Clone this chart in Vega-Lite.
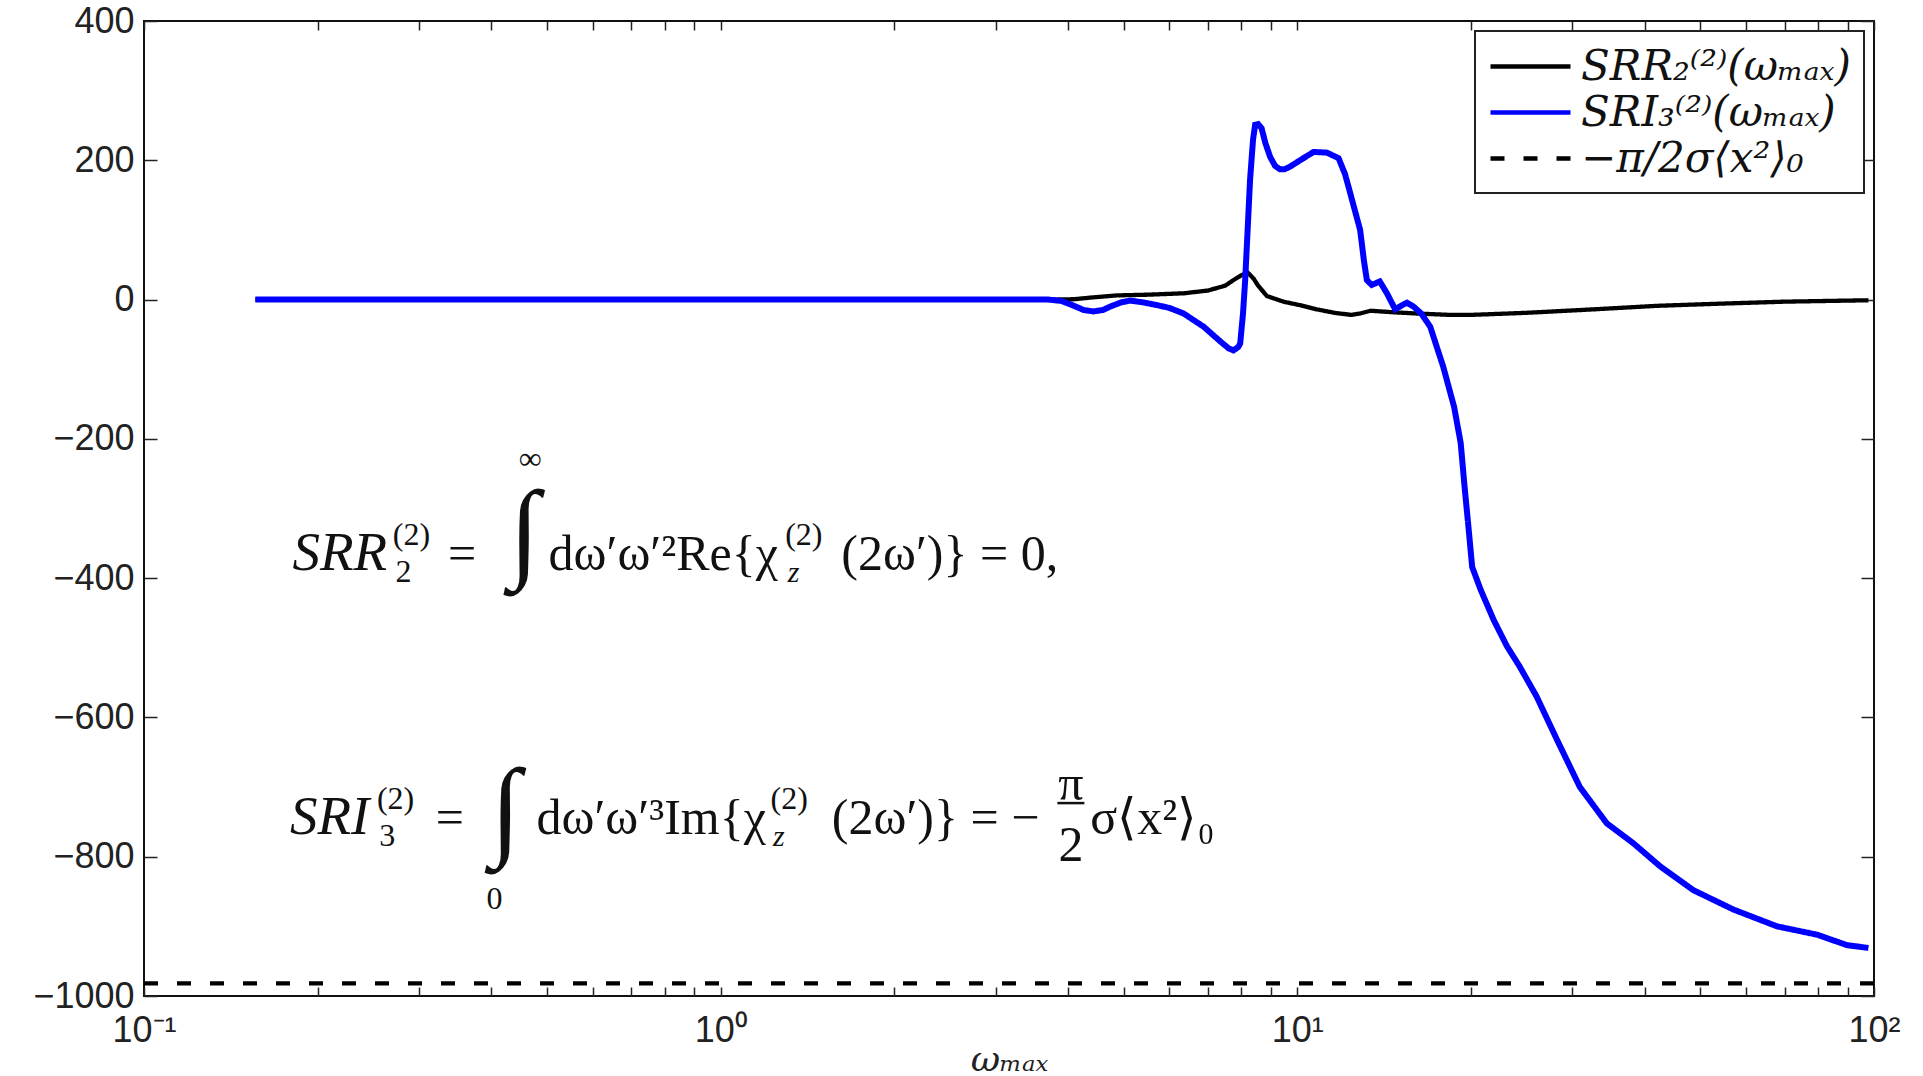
{
  "$schema": "https://vega.github.io/schema/vega-lite/v6.json",
  "width": 1730,
  "height": 975,
  "autosize": {"type": "none"},
  "padding": {"left": 144, "top": 21, "right": 49, "bottom": 80},
  "background": "white",
  "config": {
    "view": {"stroke": "#111", "strokeWidth": 2},
    "axis": {"domain": false, "grid": false, "labelFont": "Liberation Sans", "labelFontSize": 36, "labelColor": "#222", "tickColor": "#222", "tickWidth": 1.5, "labelFlush": false, "labelOverlap": false},
    "legend": {"orient": "top-right", "offset": 10, "strokeColor": "#222", "strokeWidth": 2, "fillColor": "white", "padding": 13, "symbolType": "M-1,0H3", "symbolSize": 1600, "symbolStrokeWidth": 4.5, "labelFont": "DejaVu Serif", "labelFontStyle": "italic", "labelFontSize": 42, "rowPadding": 2, "labelLimit": 600, "labelOffset": 48, "labelColor": "#111"}
  },
  "datasets": {
    "curves": [
      {"w": 0.156, "v": 0, "s": "SRR₂⁽²⁾(ωₘₐₓ)"},
      {"w": 0.5, "v": 0, "s": "SRR₂⁽²⁾(ωₘₐₓ)"},
      {"w": 1.0, "v": 0, "s": "SRR₂⁽²⁾(ωₘₐₓ)"},
      {"w": 2.0, "v": 0, "s": "SRR₂⁽²⁾(ωₘₐₓ)"},
      {"w": 3.8, "v": 0, "s": "SRR₂⁽²⁾(ωₘₐₓ)"},
      {"w": 4.1, "v": 0.5, "s": "SRR₂⁽²⁾(ωₘₐₓ)"},
      {"w": 4.4, "v": 3, "s": "SRR₂⁽²⁾(ωₘₐₓ)"},
      {"w": 4.87, "v": 6, "s": "SRR₂⁽²⁾(ωₘₐₓ)"},
      {"w": 5.5, "v": 7, "s": "SRR₂⁽²⁾(ωₘₐₓ)"},
      {"w": 6.35, "v": 9, "s": "SRR₂⁽²⁾(ωₘₐₓ)"},
      {"w": 7.0, "v": 13, "s": "SRR₂⁽²⁾(ωₘₐₓ)"},
      {"w": 7.5, "v": 20, "s": "SRR₂⁽²⁾(ωₘₐₓ)"},
      {"w": 7.75, "v": 28, "s": "SRR₂⁽²⁾(ωₘₐₓ)"},
      {"w": 8.0, "v": 35, "s": "SRR₂⁽²⁾(ωₘₐₓ)"},
      {"w": 8.2, "v": 39, "s": "SRR₂⁽²⁾(ωₘₐₓ)"},
      {"w": 8.4, "v": 30, "s": "SRR₂⁽²⁾(ωₘₐₓ)"},
      {"w": 8.55, "v": 20, "s": "SRR₂⁽²⁾(ωₘₐₓ)"},
      {"w": 8.86, "v": 5, "s": "SRR₂⁽²⁾(ωₘₐₓ)"},
      {"w": 9.46, "v": -3, "s": "SRR₂⁽²⁾(ωₘₐₓ)"},
      {"w": 10.1, "v": -8, "s": "SRR₂⁽²⁾(ωₘₐₓ)"},
      {"w": 10.8, "v": -14, "s": "SRR₂⁽²⁾(ωₘₐₓ)"},
      {"w": 11.6, "v": -19, "s": "SRR₂⁽²⁾(ωₘₐₓ)"},
      {"w": 12.4, "v": -22, "s": "SRR₂⁽²⁾(ωₘₐₓ)"},
      {"w": 12.85, "v": -20, "s": "SRR₂⁽²⁾(ωₘₐₓ)"},
      {"w": 13.4, "v": -16, "s": "SRR₂⁽²⁾(ωₘₐₓ)"},
      {"w": 14.5, "v": -18, "s": "SRR₂⁽²⁾(ωₘₐₓ)"},
      {"w": 16.1, "v": -20, "s": "SRR₂⁽²⁾(ωₘₐₓ)"},
      {"w": 18.4, "v": -22, "s": "SRR₂⁽²⁾(ωₘₐₓ)"},
      {"w": 20.0, "v": -22, "s": "SRR₂⁽²⁾(ωₘₐₓ)"},
      {"w": 25.0, "v": -19, "s": "SRR₂⁽²⁾(ωₘₐₓ)"},
      {"w": 32.7, "v": -14, "s": "SRR₂⁽²⁾(ωₘₐₓ)"},
      {"w": 42.0, "v": -9, "s": "SRR₂⁽²⁾(ωₘₐₓ)"},
      {"w": 53.5, "v": -6, "s": "SRR₂⁽²⁾(ωₘₐₓ)"},
      {"w": 70.0, "v": -3, "s": "SRR₂⁽²⁾(ωₘₐₓ)"},
      {"w": 97.8, "v": -1, "s": "SRR₂⁽²⁾(ωₘₐₓ)"},
      {"w": 0.1, "v": -982, "s": "−π/2σ⟨x²⟩₀"},
      {"w": 100, "v": -982, "s": "−π/2σ⟨x²⟩₀"},
      {"w": 0.156, "v": 0, "s": "SRI₃⁽²⁾(ωₘₐₓ)"},
      {"w": 0.5, "v": 0, "s": "SRI₃⁽²⁾(ωₘₐₓ)"},
      {"w": 1.0, "v": 0, "s": "SRI₃⁽²⁾(ωₘₐₓ)"},
      {"w": 2.0, "v": 0, "s": "SRI₃⁽²⁾(ωₘₐₓ)"},
      {"w": 3.7, "v": 0, "s": "SRI₃⁽²⁾(ωₘₐₓ)"},
      {"w": 3.9, "v": -2, "s": "SRI₃⁽²⁾(ωₘₐₓ)"},
      {"w": 4.1, "v": -9, "s": "SRI₃⁽²⁾(ωₘₐₓ)"},
      {"w": 4.26, "v": -15, "s": "SRI₃⁽²⁾(ωₘₐₓ)"},
      {"w": 4.43, "v": -17, "s": "SRI₃⁽²⁾(ωₘₐₓ)"},
      {"w": 4.6, "v": -15, "s": "SRI₃⁽²⁾(ωₘₐₓ)"},
      {"w": 4.74, "v": -10, "s": "SRI₃⁽²⁾(ωₘₐₓ)"},
      {"w": 4.95, "v": -4, "s": "SRI₃⁽²⁾(ωₘₐₓ)"},
      {"w": 5.13, "v": -1.5, "s": "SRI₃⁽²⁾(ωₘₐₓ)"},
      {"w": 5.4, "v": -4, "s": "SRI₃⁽²⁾(ωₘₐₓ)"},
      {"w": 5.71, "v": -8, "s": "SRI₃⁽²⁾(ωₘₐₓ)"},
      {"w": 6.0, "v": -12, "s": "SRI₃⁽²⁾(ωₘₐₓ)"},
      {"w": 6.35, "v": -20, "s": "SRI₃⁽²⁾(ωₘₐₓ)"},
      {"w": 6.88, "v": -39, "s": "SRI₃⁽²⁾(ωₘₐₓ)"},
      {"w": 7.35, "v": -60, "s": "SRI₃⁽²⁾(ωₘₐₓ)"},
      {"w": 7.6, "v": -70, "s": "SRI₃⁽²⁾(ωₘₐₓ)"},
      {"w": 7.75, "v": -73, "s": "SRI₃⁽²⁾(ωₘₐₓ)"},
      {"w": 7.9, "v": -68, "s": "SRI₃⁽²⁾(ωₘₐₓ)"},
      {"w": 7.96, "v": -63, "s": "SRI₃⁽²⁾(ωₘₐₓ)"},
      {"w": 8.05, "v": -20, "s": "SRI₃⁽²⁾(ωₘₐₓ)"},
      {"w": 8.12, "v": 28, "s": "SRI₃⁽²⁾(ωₘₐₓ)"},
      {"w": 8.2, "v": 100, "s": "SRI₃⁽²⁾(ωₘₐₓ)"},
      {"w": 8.28, "v": 172, "s": "SRI₃⁽²⁾(ωₘₐₓ)"},
      {"w": 8.38, "v": 230, "s": "SRI₃⁽²⁾(ωₘₐₓ)"},
      {"w": 8.45, "v": 251, "s": "SRI₃⁽²⁾(ωₘₐₓ)"},
      {"w": 8.55, "v": 252, "s": "SRI₃⁽²⁾(ωₘₐₓ)"},
      {"w": 8.67, "v": 246, "s": "SRI₃⁽²⁾(ωₘₐₓ)"},
      {"w": 8.8, "v": 225, "s": "SRI₃⁽²⁾(ωₘₐₓ)"},
      {"w": 8.97, "v": 205, "s": "SRI₃⁽²⁾(ωₘₐₓ)"},
      {"w": 9.15, "v": 192, "s": "SRI₃⁽²⁾(ωₘₐₓ)"},
      {"w": 9.33, "v": 187, "s": "SRI₃⁽²⁾(ωₘₐₓ)"},
      {"w": 9.5, "v": 187, "s": "SRI₃⁽²⁾(ωₘₐₓ)"},
      {"w": 9.72, "v": 191, "s": "SRI₃⁽²⁾(ωₘₐₓ)"},
      {"w": 10.2, "v": 202, "s": "SRI₃⁽²⁾(ωₘₐₓ)"},
      {"w": 10.67, "v": 212, "s": "SRI₃⁽²⁾(ωₘₐₓ)"},
      {"w": 11.25, "v": 211, "s": "SRI₃⁽²⁾(ωₘₐₓ)"},
      {"w": 11.79, "v": 203, "s": "SRI₃⁽²⁾(ωₘₐₓ)"},
      {"w": 12.1, "v": 180, "s": "SRI₃⁽²⁾(ωₘₐₓ)"},
      {"w": 12.35, "v": 153, "s": "SRI₃⁽²⁾(ωₘₐₓ)"},
      {"w": 12.85, "v": 100, "s": "SRI₃⁽²⁾(ωₘₐₓ)"},
      {"w": 13.05, "v": 55, "s": "SRI₃⁽²⁾(ωₘₐₓ)"},
      {"w": 13.2, "v": 28, "s": "SRI₃⁽²⁾(ωₘₐₓ)"},
      {"w": 13.46, "v": 21, "s": "SRI₃⁽²⁾(ωₘₐₓ)"},
      {"w": 13.9, "v": 26, "s": "SRI₃⁽²⁾(ωₘₐₓ)"},
      {"w": 14.3, "v": 9, "s": "SRI₃⁽²⁾(ωₘₐₓ)"},
      {"w": 14.78, "v": -14, "s": "SRI₃⁽²⁾(ωₘₐₓ)"},
      {"w": 15.2, "v": -8, "s": "SRI₃⁽²⁾(ωₘₐₓ)"},
      {"w": 15.49, "v": -4.5, "s": "SRI₃⁽²⁾(ωₘₐₓ)"},
      {"w": 15.9, "v": -10, "s": "SRI₃⁽²⁾(ωₘₐₓ)"},
      {"w": 16.4, "v": -20, "s": "SRI₃⁽²⁾(ωₘₐₓ)"},
      {"w": 17.0, "v": -39, "s": "SRI₃⁽²⁾(ωₘₐₓ)"},
      {"w": 17.9, "v": -96, "s": "SRI₃⁽²⁾(ωₘₐₓ)"},
      {"w": 18.7, "v": -154, "s": "SRI₃⁽²⁾(ωₘₐₓ)"},
      {"w": 19.2, "v": -206, "s": "SRI₃⁽²⁾(ωₘₐₓ)"},
      {"w": 19.5, "v": -269, "s": "SRI₃⁽²⁾(ωₘₐₓ)"},
      {"w": 19.8, "v": -326, "s": "SRI₃⁽²⁾(ωₘₐₓ)"},
      {"w": 20.1, "v": -384, "s": "SRI₃⁽²⁾(ωₘₐₓ)"},
      {"w": 20.8, "v": -417, "s": "SRI₃⁽²⁾(ωₘₐₓ)"},
      {"w": 21.9, "v": -460, "s": "SRI₃⁽²⁾(ωₘₐₓ)"},
      {"w": 23.1, "v": -498, "s": "SRI₃⁽²⁾(ωₘₐₓ)"},
      {"w": 24.3, "v": -527, "s": "SRI₃⁽²⁾(ωₘₐₓ)"},
      {"w": 26.0, "v": -570, "s": "SRI₃⁽²⁾(ωₘₐₓ)"},
      {"w": 28.2, "v": -632, "s": "SRI₃⁽²⁾(ωₘₐₓ)"},
      {"w": 30.9, "v": -700, "s": "SRI₃⁽²⁾(ωₘₐₓ)"},
      {"w": 34.4, "v": -752, "s": "SRI₃⁽²⁾(ωₘₐₓ)"},
      {"w": 38.3, "v": -781, "s": "SRI₃⁽²⁾(ωₘₐₓ)"},
      {"w": 42.6, "v": -814, "s": "SRI₃⁽²⁾(ωₘₐₓ)"},
      {"w": 48.6, "v": -848, "s": "SRI₃⁽²⁾(ωₘₐₓ)"},
      {"w": 57.1, "v": -876, "s": "SRI₃⁽²⁾(ωₘₐₓ)"},
      {"w": 67.9, "v": -900, "s": "SRI₃⁽²⁾(ωₘₐₓ)"},
      {"w": 79.7, "v": -912, "s": "SRI₃⁽²⁾(ωₘₐₓ)"},
      {"w": 89.8, "v": -927, "s": "SRI₃⁽²⁾(ωₘₐₓ)"},
      {"w": 97.8, "v": -931, "s": "SRI₃⁽²⁾(ωₘₐₓ)"}
    ],
    "eq": [
      {"k": "lhs", "t": "SRR", "w": 0.1809, "v": -388.3},
      {"k": "lhs", "t": "SRI", "w": 0.1791, "v": -767.4},
      {"k": "body", "t": "=", "w": 0.3366, "v": -388.3},
      {"k": "body", "t": "=", "w": 0.3207, "v": -767.4},
      {"k": "body", "t": "dω′ω′²Re{χ", "w": 0.503, "v": -388.3},
      {"k": "body", "t": "(2ω′)} = 0,", "w": 1.619, "v": -388.3},
      {"k": "body", "t": "dω′ω′³Im{χ", "w": 0.4793, "v": -767.4},
      {"k": "body", "t": "(2ω′)} = −", "w": 1.559, "v": -767.4},
      {"k": "body", "t": "σ⟨x²⟩₀", "w": 4.375, "v": -767.4},
      {"k": "sup", "t": "(2)", "w": 0.27, "v": -353},
      {"k": "sup", "t": "2", "w": 0.2729, "v": -406},
      {"k": "sup", "t": "(2)", "w": 0.2535, "v": -732},
      {"k": "sup", "t": "3", "w": 0.2559, "v": -785},
      {"k": "sup", "t": "(2)", "w": 1.294, "v": -353},
      {"k": "sup", "t": "(2)", "w": 1.2203, "v": -732},
      {"k": "subz", "t": "z", "w": 1.307, "v": -406},
      {"k": "subz", "t": "z", "w": 1.232, "v": -785},
      {"k": "int", "t": "∫", "w": 0.4567, "v": -335.9},
      {"k": "int", "t": "∫", "w": 0.4238, "v": -735.8},
      {"k": "lim", "t": "∞", "w": 0.4675, "v": -229},
      {"k": "lim", "t": "0", "w": 0.4055, "v": -860.7},
      {"k": "frac", "t": "π", "w": 4.049, "v": -697},
      {"k": "frac", "t": "2", "w": 4.049, "v": -784.6}
    ],
    "bar": [
      {"w": 3.836, "w2": 4.273, "v": -723}
    ]
  },
  "layer": [
    {
      "data": {"name": "curves"},
      "transform": [{"filter": "datum.s != 'SRI₃⁽²⁾(ωₘₐₓ)'"}],
      "mark": {"type": "line", "strokeWidth": 4.3, "strokeCap": "butt"},
      "encoding": {
        "x": {"field": "w", "type": "quantitative", "scale": {"type": "log", "domain": [0.1, 100], "nice": false},
          "axis": {"orient": "bottom", "values": [0.1,0.2,0.3,0.4,0.5,0.6,0.7,0.8,0.9,1,2,3,4,5,6,7,8,9,10,20,30,40,50,60,70,80,90,100],
            "tickSize": -9, "labelPadding": 26,
            "labelExpr": "datum.value == 0.1 ? '10⁻¹' : datum.value == 1 ? '10⁰' : datum.value == 10 ? '10¹' : datum.value == 100 ? '10²' : ''",
            "title": "ωₘₐₓ", "titleFont": "DejaVu Serif", "titleFontStyle": "italic", "titleFontWeight": "normal", "titleFontSize": 36, "titlePadding": -6, "titleColor": "#222"}},
        "y": {"field": "v", "type": "quantitative", "scale": {"domain": [-1000, 400], "nice": false},
          "axis": {"orient": "left", "values": [-1000,-800,-600,-400,-200,0,200,400], "format": "d", "tickSize": -13, "labelPadding": 23, "title": null}},
        "color": {"field": "s", "type": "nominal", "title": null,
          "scale": {"domain": ["SRR₂⁽²⁾(ωₘₐₓ)", "SRI₃⁽²⁾(ωₘₐₓ)", "−π/2σ⟨x²⟩₀"], "range": ["#000000", "#0000ff", "#000000"]}},
        "strokeDash": {"field": "s", "type": "nominal", "title": null,
          "scale": {"domain": ["SRR₂⁽²⁾(ωₘₐₓ)", "SRI₃⁽²⁾(ωₘₐₓ)", "−π/2σ⟨x²⟩₀"], "range": [[1, 0], [1, 0], [14, 19]]}},
        "order": {"field": "w", "type": "quantitative"}
      }
    },
    {
      "data": {"name": "curves"},
      "transform": [{"filter": "datum.s == 'SRI₃⁽²⁾(ωₘₐₓ)'"}],
      "mark": {"type": "line", "strokeWidth": 6, "strokeCap": "butt"},
      "encoding": {
        "x": {"field": "w", "type": "quantitative", "scale": {"type": "log", "domain": [0.1, 100], "nice": false},
          "axis": {"orient": "top", "values": [0.1,0.2,0.3,0.4,0.5,0.6,0.7,0.8,0.9,1,2,3,4,5,6,7,8,9,10,20,30,40,50,60,70,80,90,100], "tickSize": -9, "labels": false, "title": null}},
        "y": {"field": "v", "type": "quantitative", "scale": {"domain": [-1000, 400], "nice": false},
          "axis": {"orient": "right", "values": [-1000,-800,-600,-400,-200,0,200,400], "tickSize": -13, "labels": false, "title": null}},
        "color": {"field": "s", "type": "nominal", "title": null,
          "scale": {"domain": ["SRR₂⁽²⁾(ωₘₐₓ)", "SRI₃⁽²⁾(ωₘₐₓ)", "−π/2σ⟨x²⟩₀"], "range": ["#000000", "#0000ff", "#000000"]}},
        "strokeDash": {"field": "s", "type": "nominal", "title": null,
          "scale": {"domain": ["SRR₂⁽²⁾(ωₘₐₓ)", "SRI₃⁽²⁾(ωₘₐₓ)", "−π/2σ⟨x²⟩₀"], "range": [[1, 0], [1, 0], [14, 19]]}},
        "order": {"field": "w", "type": "quantitative"}
      }
    },
    {
      "data": {"name": "eq"},
      "transform": [{"filter": "datum.k == 'lhs'"}],
      "mark": {"type": "text", "align": "left", "baseline": "alphabetic", "font": "Liberation Serif", "fontStyle": "italic", "fontSize": 55, "color": "#111"},
      "encoding": {
        "x": {"field": "w", "type": "quantitative", "scale": {"type": "log", "domain": [0.1, 100], "nice": false}, "axis": null},
        "y": {"field": "v", "type": "quantitative", "scale": {"domain": [-1000, 400], "nice": false}, "axis": null},
        "text": {"field": "t"}
      }
    },
    {
      "data": {"name": "eq"},
      "transform": [{"filter": "datum.k == 'body'"}],
      "mark": {"type": "text", "align": "left", "baseline": "alphabetic", "font": "Liberation Serif", "fontSize": 50, "color": "#111"},
      "encoding": {
        "x": {"field": "w", "type": "quantitative", "scale": {"type": "log", "domain": [0.1, 100], "nice": false}, "axis": null},
        "y": {"field": "v", "type": "quantitative", "scale": {"domain": [-1000, 400], "nice": false}, "axis": null},
        "text": {"field": "t"}
      }
    },
    {
      "data": {"name": "eq"},
      "transform": [{"filter": "datum.k == 'sup'"}],
      "mark": {"type": "text", "align": "left", "baseline": "alphabetic", "font": "Liberation Serif", "fontSize": 32, "color": "#111"},
      "encoding": {
        "x": {"field": "w", "type": "quantitative", "scale": {"type": "log", "domain": [0.1, 100], "nice": false}, "axis": null},
        "y": {"field": "v", "type": "quantitative", "scale": {"domain": [-1000, 400], "nice": false}, "axis": null},
        "text": {"field": "t"}
      }
    },
    {
      "data": {"name": "eq"},
      "transform": [{"filter": "datum.k == 'subz'"}],
      "mark": {"type": "text", "align": "left", "baseline": "alphabetic", "font": "Liberation Serif", "fontStyle": "italic", "fontSize": 30, "color": "#111"},
      "encoding": {
        "x": {"field": "w", "type": "quantitative", "scale": {"type": "log", "domain": [0.1, 100], "nice": false}, "axis": null},
        "y": {"field": "v", "type": "quantitative", "scale": {"domain": [-1000, 400], "nice": false}, "axis": null},
        "text": {"field": "t"}
      }
    },
    {
      "data": {"name": "eq"},
      "transform": [{"filter": "datum.k == 'int'"}],
      "mark": {"type": "text", "align": "center", "baseline": "middle", "font": "Liberation Serif", "fontSize": 110, "color": "#111"},
      "encoding": {
        "x": {"field": "w", "type": "quantitative", "scale": {"type": "log", "domain": [0.1, 100], "nice": false}, "axis": null},
        "y": {"field": "v", "type": "quantitative", "scale": {"domain": [-1000, 400], "nice": false}, "axis": null},
        "text": {"field": "t"}
      }
    },
    {
      "data": {"name": "eq"},
      "transform": [{"filter": "datum.k == 'lim'"}],
      "mark": {"type": "text", "align": "center", "baseline": "middle", "font": "Liberation Serif", "fontSize": 32, "color": "#111"},
      "encoding": {
        "x": {"field": "w", "type": "quantitative", "scale": {"type": "log", "domain": [0.1, 100], "nice": false}, "axis": null},
        "y": {"field": "v", "type": "quantitative", "scale": {"domain": [-1000, 400], "nice": false}, "axis": null},
        "text": {"field": "t"}
      }
    },
    {
      "data": {"name": "eq"},
      "transform": [{"filter": "datum.k == 'frac'"}],
      "mark": {"type": "text", "align": "center", "baseline": "middle", "font": "Liberation Serif", "fontSize": 50, "color": "#111"},
      "encoding": {
        "x": {"field": "w", "type": "quantitative", "scale": {"type": "log", "domain": [0.1, 100], "nice": false}, "axis": null},
        "y": {"field": "v", "type": "quantitative", "scale": {"domain": [-1000, 400], "nice": false}, "axis": null},
        "text": {"field": "t"}
      }
    },
    {
      "data": {"name": "bar"},
      "mark": {"type": "rule", "strokeWidth": 2.5, "color": "#111"},
      "encoding": {
        "x": {"field": "w", "type": "quantitative", "scale": {"type": "log", "domain": [0.1, 100], "nice": false}, "axis": null},
        "x2": {"field": "w2"},
        "y": {"field": "v", "type": "quantitative", "scale": {"domain": [-1000, 400], "nice": false}, "axis": null}
      }
    }
  ],
  "resolve": {"axis": {"x": "independent", "y": "independent"}}
}
